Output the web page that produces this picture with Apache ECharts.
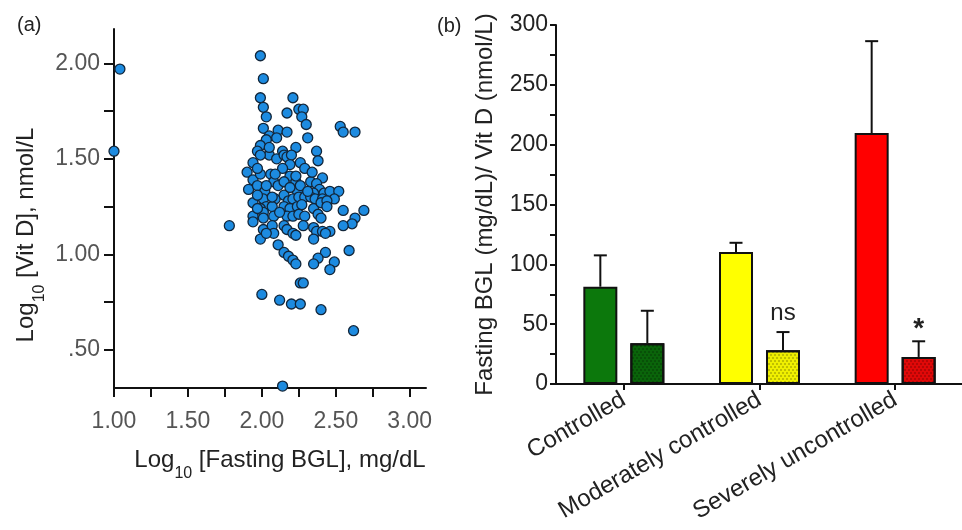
<!DOCTYPE html>
<html>
<head>
<meta charset="utf-8">
<script src="https://cdn.jsdelivr.net/npm/echarts@6/dist/echarts.min.js"></script>
<style>
  html, body { margin: 0; padding: 0; background: #fff; }
  #chart { width: 962px; height: 530px; }
</style>
</head>
<body>
<div id="chart"></div>
<script>
// (a) log10 fasting BGL vs log10 vit D, one value per patient
var bglLog = [1.04, 1.00, 1.99, 2.01, 1.99, 2.21, 2.01, 2.17, 2.25, 2.28,
  2.27, 2.03, 2.01, 2.30, 2.11, 2.17, 2.53, 2.55, 2.63, 2.31,
  2.05, 2.03, 2.10, 1.99, 1.97, 2.23, 2.14, 2.37, 2.38, 1.94,
  2.05, 2.10, 2.15, 2.17, 2.20, 2.26, 2.29, 1.90, 1.94, 1.99,
  2.06, 2.08, 2.19, 2.23, 2.33, 2.41, 1.91, 1.97, 2.02, 2.24,
  2.37, 2.39, 2.42, 2.46, 2.35, 2.52, 1.94, 2.01, 2.03, 2.09,
  2.15, 2.18, 2.21, 2.25, 2.29, 2.33, 2.36, 2.41, 2.49, 1.99,
  2.01, 2.07, 2.15, 2.19, 2.24, 2.27, 2.35, 2.40, 2.44, 2.55,
  2.69, 1.94, 2.01, 2.08, 2.17, 2.21, 2.25, 2.29, 2.38, 2.63,
  2.61, 1.94, 2.01, 2.07, 1.78, 2.15, 2.17, 2.21, 2.23, 2.35,
  2.37, 2.41, 2.46, 2.55, 1.99, 2.08, 2.11, 2.35, 2.15, 2.18,
  2.21, 2.23, 2.43, 2.38, 2.35, 2.49, 2.46, 2.59, 2.26, 2.28,
  2.00, 2.12, 2.20, 2.26, 2.40, 2.62, 2.14, 1.97, 2.03, 2.07,
  1.97, 2.11, 2.15, 2.19, 2.34, 2.05, 2.14, 2.26, 2.31, 2.19,
  2.40, 2.44, 1.97, 2.03, 2.12, 2.28, 2.43, 2.23, 2.09, 1.99];
var vitDLog = [1.97, 1.54, 2.04, 1.92, 1.82, 1.82, 1.77, 1.74, 1.76, 1.76,
  1.72, 1.72, 1.66, 1.68, 1.65, 1.64, 1.67, 1.64, 1.64, 1.61,
  1.62, 1.60, 1.61, 1.57, 1.54, 1.56, 1.54, 1.54, 1.49, 1.48,
  1.52, 1.50, 1.52, 1.51, 1.52, 1.48, 1.45, 1.43, 1.39, 1.42,
  1.42, 1.38, 1.41, 1.38, 1.38, 1.40, 1.34, 1.36, 1.33, 1.33,
  1.37, 1.34, 1.32, 1.33, 1.32, 1.33, 1.27, 1.29, 1.25, 1.29,
  1.31, 1.28, 1.29, 1.30, 1.30, 1.30, 1.29, 1.29, 1.29, 1.24,
  1.22, 1.25, 1.25, 1.24, 1.25, 1.26, 1.24, 1.27, 1.28, 1.23,
  1.23, 1.20, 1.19, 1.20, 1.20, 1.20, 1.21, 1.20, 1.21, 1.19,
  1.16, 1.17, 1.13, 1.15, 1.15, 1.15, 1.13, 1.11, 1.10, 1.14,
  1.12, 1.12, 1.12, 1.15, 1.08, 1.11, 1.05, 1.08, 1.01, 0.99,
  0.97, 0.95, 1.01, 0.98, 0.95, 0.96, 0.92, 1.02, 0.85, 0.85,
  0.79, 0.76, 0.74, 0.74, 0.71, 0.60, 0.31, 1.45, 1.36, 1.30,
  1.31, 1.36, 1.38, 1.47, 1.43, 1.56, 1.45, 1.36, 1.33, 1.35,
  1.19, 1.25, 1.24, 1.11, 1.22, 1.15, 1.11, 1.41, 1.42, 1.52];
var xTicks = [1.0, 1.25, 1.5, 1.75, 2.0, 2.25, 2.5, 2.75, 3.0];
var xLabels = [1.0, 1.5, 2.0, 2.5, 3.0];
var yTicks = [0.5, 0.75, 1.0, 1.25, 1.5, 1.75, 2.0];
var yLabels = [0.5, 1.0, 1.5, 2.0];

// (b) fasting BGL / vit D ratio per control group (mean and SD)
var groups = ['Controlled', 'Moderately controlled', 'Severely uncontrolled'];
var ratioMean = [81.3, 110.3, 209.7];
var ratioErr = [26.2, 7.7, 76.8];
var ratioMean2 = [34.0, 28.1, 22.6];
var ratioErr2 = [27.2, 15.3, 13.1];
var sigMarks = ['', 'ns', '*'];
var barColors = ['#0c780c', '#ffff00', '#ff0000'];
var barColors2 = ['#0a640a', '#efef00', '#e00808'];

var font = 'Liberation Sans, Arial, sans-serif';
var barW = 34, barGapPx = 13;
var shift = (barW + barGapPx) / 2;

let myChart = echarts.init(document.getElementById('chart'));
var option;

function sciName(before, after) {
  return '{m|' + before + '}{s|10}{m|' + after + '}';
}
var nameRich = {
  m: { fontSize: 24, lineHeight: 24, color: '#222', fontFamily: font },
  s: { fontSize: 16, lineHeight: 16, color: '#222', fontFamily: font, padding: [28, 0, 0, 0] }
};

function errorSeries(means, errs, offset, marks) {
  return {
    type: 'custom',
    xAxisIndex: 1,
    yAxisIndex: 1,
    z: 5,
    data: means.map(function (m, i) { return [i, m, errs[i]]; }),
    renderItem: function (params, api) {
      var base = api.coord([api.value(0), api.value(1)]);
      var top = api.coord([api.value(0), api.value(1) + api.value(2)]);
      var x = base[0] + offset;
      var kids = [
        { type: 'line', shape: { x1: x, y1: base[1], x2: x, y2: top[1] }, style: { stroke: '#111', lineWidth: 2 } },
        { type: 'line', shape: { x1: x - 6.5, y1: top[1], x2: x + 6.5, y2: top[1] }, style: { stroke: '#111', lineWidth: 2 } }
      ];
      var mark = marks ? marks[params.dataIndex] : '';
      if (mark) {
        kids.push({
          type: 'text',
          x: x,
          y: top[1] - (mark === '*' ? 12 : 19),
          style: {
            text: mark, fill: '#222', align: 'center', verticalAlign: 'middle',
            font: (mark === '*' ? 'bold 28px ' : '24px ') + font
          }
        });
      }
      return { type: 'group', children: kids };
    }
  };
}

option = {
  backgroundColor: '#fff',
  animation: false,
  title: [
    { text: '(a)', left: 12, top: 10, textStyle: { fontSize: 20, fontWeight: 'normal', color: '#222', fontFamily: font } },
    { text: '(b)', left: 432, top: 11, textStyle: { fontSize: 20, fontWeight: 'normal', color: '#222', fontFamily: font } }
  ],
  grid: [
    { left: 114, top: 29, width: 312, height: 359, outerBoundsMode: 'none' },
    { left: 556, top: 25, width: 407, height: 359, outerBoundsMode: 'none' }
  ],
  xAxis: [
    {
      gridIndex: 0,
      type: 'value',
      min: 1.0,
      max: 3.11,
      name: sciName('Log', ' [Fasting BGL], mg/dL'),
      nameLocation: 'middle',
      nameGap: 50,
      nameTextStyle: { rich: nameRich, padding: [0, 0, 0, 20] },
      axisLine: { show: true, lineStyle: { color: '#111', width: 2 } },
      axisTick: { show: true, customValues: xTicks, length: 9, lineStyle: { color: '#111', width: 2 } },
      axisLabel: {
        customValues: xLabels, margin: 22, fontSize: 23, color: '#555', fontFamily: font,
        formatter: function (v) { return v.toFixed(2); }
      },
      splitLine: { show: false }
    },
    {
      gridIndex: 1,
      type: 'category',
      data: groups,
      axisLine: { show: true, lineStyle: { color: '#111', width: 2 } },
      axisTick: { show: true, alignWithLabel: true, length: 6, lineStyle: { color: '#111', width: 2 } },
      axisLabel: { rotate: 30, margin: 14, fontSize: 24, color: '#222', fontFamily: font, interval: 0 },
      splitLine: { show: false }
    }
  ],
  yAxis: [
    {
      gridIndex: 0,
      type: 'value',
      min: 0.30,
      max: 2.18,
      name: sciName('Log', ' [Vit D], nmol/L'),
      nameLocation: 'middle',
      nameGap: 76,
      nameTextStyle: { rich: nameRich, padding: [0, 53, 0, 0] },
      axisLine: { show: true, lineStyle: { color: '#111', width: 2 } },
      axisTick: { show: true, customValues: yTicks, length: 10, lineStyle: { color: '#111', width: 2 } },
      axisLabel: {
        customValues: yLabels, margin: 14, fontSize: 23, color: '#555', fontFamily: font,
        formatter: function (v) { return v === 0.5 ? '.50' : v.toFixed(2); }
      },
      splitLine: { show: false }
    },
    {
      gridIndex: 1,
      type: 'value',
      min: 0,
      max: 300,
      interval: 50,
      name: 'Fasting BGL (mg/dL)/ Vit D (nmol/L)',
      nameLocation: 'middle',
      nameGap: 59,
      nameTextStyle: { fontSize: 24, color: '#222', fontFamily: font },
      axisLine: { show: true, lineStyle: { color: '#111', width: 2 } },
      axisTick: { show: true, length: 6, lineStyle: { color: '#111', width: 2 } },
      minorTick: { show: true, splitNumber: 2, length: 6, lineStyle: { color: '#111', width: 2 } },
      axisLabel: { margin: 8, fontSize: 23, color: '#222', fontFamily: font },
      splitLine: { show: false },
      minorSplitLine: { show: false }
    }
  ],
  series: [
    {
      type: 'scatter',
      xAxisIndex: 0,
      yAxisIndex: 0,
      symbolSize: 10,
      itemStyle: { color: '#1d8be0', borderColor: '#12263a', borderWidth: 1.3, opacity: 1 },
      data: bglLog.map(function (x, i) { return [x, vitDLog[i]]; })
    },
    {
      type: 'bar',
      xAxisIndex: 1,
      yAxisIndex: 1,
      barWidth: barW,
      barGap: (barGapPx / barW * 100) + '%',
      data: ratioMean.map(function (v, i) {
        return { value: v, itemStyle: { color: barColors[i], borderColor: '#111', borderWidth: 2 } };
      })
    },
    {
      type: 'bar',
      xAxisIndex: 1,
      yAxisIndex: 1,
      barWidth: barW,
      data: ratioMean2.map(function (v, i) {
        return {
          value: v,
          itemStyle: {
            color: barColors2[i], borderColor: '#111', borderWidth: 2,
            decal: {
              symbol: 'circle', symbolSize: 0.8, color: 'rgba(0,0,0,0.45)',
              dashArrayX: [[2, 2], [0, 2, 2, 0]], dashArrayY: [2, 1]
            }
          }
        };
      })
    },
    errorSeries(ratioMean, ratioErr, -shift, null),
    errorSeries(ratioMean2, ratioErr2, shift, sigMarks)
  ]
};

option && myChart.setOption(option);
</script>
</body>
</html>
